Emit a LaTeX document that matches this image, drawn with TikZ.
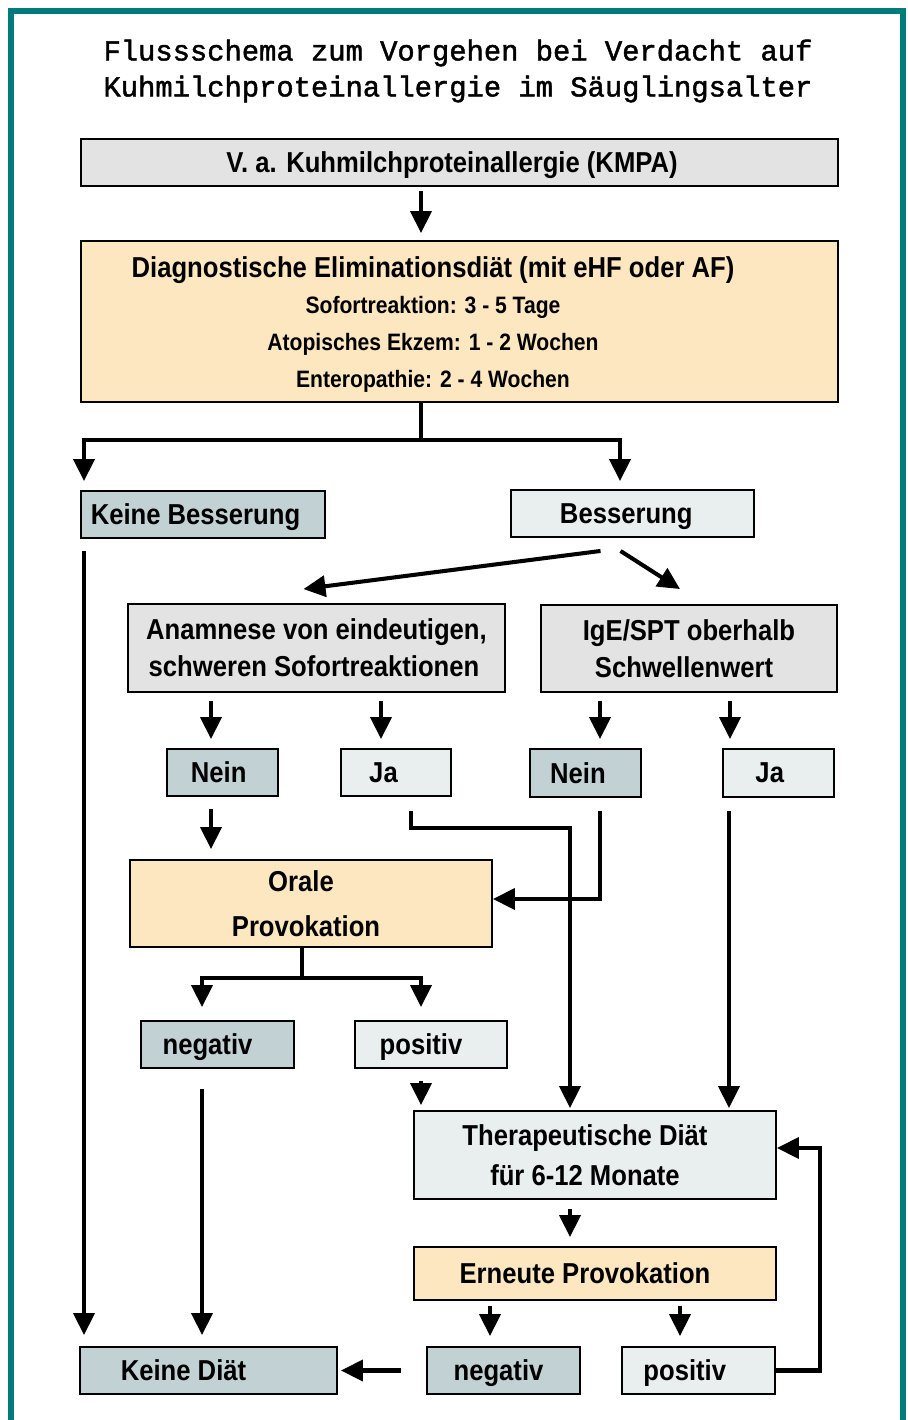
\documentclass[tikz,border=0pt]{standalone}
\usepackage{fontspec}
\setmainfont{Liberation Sans}[BoldFeatures={FakeStretch=0.89}, FakeStretch=0.95]
\newfontfamily\titelfont{Liberation Mono}[FakeBold=1.6]
\usetikzlibrary{arrows.meta,calc}
\definecolor{rahmen}{HTML}{007B7B}
\definecolor{grau}{HTML}{E3E3E3}
\definecolor{gelb}{HTML}{FDE7C0}
\definecolor{blaugrau}{HTML}{C1D1D4}
\definecolor{hell}{HTML}{E9EFEF}
\newcommand{\pxu}{0.02cm}
\tikzset{
  kasten/.style 2 args={draw, line width=1.1pt, inner sep=0pt, text depth=0pt,
    minimum width=#1*\pxu, minimum height=#2*\pxu,
    font=\bfseries\fontsize{16.4}{21}\selectfont, align=center},
  lin/.style={line width=2.3pt},
  arr/.style={lin, -{Triangle[width=0.42cm,length=0.44cm]}},
}

\begin{document}
\begin{tikzpicture}[x=\pxu, y=-\pxu]
    \useasboundingbox (0,0) rectangle (908,1420);
    \draw[rahmen, line width=0.12cm] (11,1420) -- (11,11) -- (903,11) -- (903,1420);
    \node[font=\titelfont\fontsize{16.4}{20}\selectfont] (titel1) at (458,53) {Flussschema zum Vorgehen bei Verdacht auf};
    \node[font=\titelfont\fontsize{16.4}{20}\selectfont] (titel2) at (458,89) {Kuhmilchproteinallergie im Säuglingsalter};
    % Kaesten
    \node[kasten={757}{47}, fill=grau] (kmpa) at (459.5,162.5) {V. a. Kuhmilchproteinallergie (KMPA)\hspace*{0.3cm}};
    \node[kasten={757}{161}, fill=gelb] (elim) at (459.5,321.5) {};
    \node[align=center, text depth=0pt, font=\bfseries\fontsize{13.5}{21}\selectfont] (elimtext) at (433,322)
      {{\fontsize{16.4}{21}\selectfont Diagnostische Eliminationsdiät (mit eHF oder AF)}\\
       Sofortreaktion: 3 - 5 Tage\\ Atopisches Ekzem: 1 - 2 Wochen\\ Enteropathie: 2 - 4 Wochen};
    \node[kasten={244}{47}, fill=blaugrau] (kb) at (203,514.5) {Keine Besserung\hspace*{0.3cm}};
    \node[kasten={243}{47}, fill=hell] (bes) at (632.5,513.5) {Besserung\hspace*{0.25cm}};
    \node[kasten={377}{88}, fill=grau] (anam) at (316.5,648) {Anamnese von eindeutigen,\\schweren Sofortreaktionen\hspace*{0.1cm}};
    \node[kasten={296}{87}, fill=grau] (ige) at (689,648.5) {IgE/SPT oberhalb\\Schwellenwert\hspace*{0.2cm}};
    \node[kasten={111}{47}, fill=blaugrau] (nein1) at (222.5,772.5) {Nein\hspace*{0.15cm}};
    \node[kasten={110}{47}, fill=hell] (ja1) at (396,772.5) {Ja\hspace*{0.5cm}};
    \node[kasten={111}{48}, fill=blaugrau] (nein2) at (585.5,773) {Nein\hspace*{0.3cm}};
    \node[kasten={111}{48}, fill=hell] (ja2) at (778.5,773) {Ja\hspace*{0.35cm}};
    \node[kasten={362}{87}, fill=gelb, font=\bfseries\fontsize{16.4}{25.5}\selectfont] (orale) at (311,903.5) {Orale\hspace*{0.4cm}\\Provokation\hspace*{0.2cm}};
    \node[kasten={153}{47}, fill=blaugrau] (neg1) at (217.5,1044.5) {negativ\hspace*{0.4cm}};
    \node[kasten={152}{47}, fill=hell] (pos1) at (431,1044.5) {positiv\hspace*{0.4cm}};
    \node[kasten={362}{88}, fill=hell, font=\bfseries\fontsize{16.4}{22.7}\selectfont] (ther) at (595,1155) {Therapeutische Diät\hspace*{0.4cm}\\für 6-12 Monate\hspace*{0.4cm}};
    \node[kasten={362}{53}, fill=gelb] (ern) at (595,1273.5) {Erneute Provokation\hspace*{0.4cm}};
    \node[kasten={257}{47}, fill=blaugrau] (kd) at (208.5,1370.5) {Keine Diät\hspace*{1cm}};
    \node[kasten={153}{47}, fill=blaugrau] (neg2) at (503.5,1370.5) {negativ\hspace*{0.2cm}};
    \node[kasten={153}{47}, fill=hell] (pos2) at (698.5,1370.5) {positiv\hspace*{0.55cm}};
    % Pfeile
    \draw[arr, shorten <=0.08cm, shorten >=0.14cm] (kmpa.south -| 421,0) -- (elim.north -| 421,0);
    \coordinate (teil1) at (421,440);
    \draw[lin] (elim.south -| teil1) -- (teil1);
    \draw[arr, shorten >=0.18cm] (teil1) -| (kb.north -| 84,0);
    \draw[arr, shorten >=0.16cm] (teil1) -| (bes.north -| 620,0);
    \draw[arr] ($(bes.south)+(-32,13)$) -- ($(anam.north)+(-13,-14)$);
    \draw[arr] ($(bes.south)+(-12,13)$) -- ($(ige.north)+(-9,-15)$);
    \draw[arr, shorten <=0.16cm, shorten >=0.18cm] (anam.south -| 211,0) -- (nein1.north -| 211,0);
    \draw[arr, shorten <=0.16cm, shorten >=0.18cm] (anam.south -| 381,0) -- (ja1.north -| 381,0);
    \draw[arr, shorten <=0.16cm, shorten >=0.18cm] (ige.south -| 600,0) -- (nein2.north -| 600,0);
    \draw[arr, shorten <=0.16cm, shorten >=0.18cm] (ige.south -| 730,0) -- (ja2.north -| 730,0);
    \draw[arr, shorten <=0.24cm, shorten >=0.2cm] (nein1.south -| 211,0) -- (orale.north -| 211,0);
    \coordinate (knick1) at (570,828);
    \draw[arr, shorten <=0.28cm, shorten >=0.04cm] (ja1.south -| 411,0) |- (knick1) -- (ther.north -| knick1);
    \coordinate (knick2) at (600,899);
    \draw[arr, shorten <=0.26cm] (nein2.south -| knick2) -- (knick2) -- (orale.east |- knick2);
    \draw[arr, shorten <=0.26cm, shorten >=0.04cm] (ja2.south -| 729,0) -- (ther.north -| 729,0);
    \coordinate (teil2) at (302,978);
    \draw[lin] (orale.south -| teil2) -- (teil2);
    \draw[arr, shorten >=0.26cm] (teil2) -| (neg1.north -| 202,0);
    \draw[arr, shorten >=0.26cm] (teil2) -| (pos1.north -| 421,0);
    \draw[arr, shorten <=0.4cm, shorten >=0.22cm] (neg1.south -| 202,0) -- (kd.north -| 202,0);
    \draw[arr, shorten <=0.24cm, shorten >=0.22cm] (kb.south -| 84,0) -- (kd.north -| 84,0);
    \draw[arr, shorten <=0.24cm, shorten >=0.1cm] (pos1.south -| 421,0) -- (ther.north -| 421,0);
    \draw[arr, shorten <=0.18cm, shorten >=0.18cm] (ther.south -| 570,0) -- (ern.north -| 570,0);
    \draw[arr, shorten <=0.1cm, shorten >=0.2cm] (ern.south -| 490,0) -- (neg2.north -| 490,0);
    \draw[arr, shorten <=0.1cm, shorten >=0.2cm] (ern.south -| 680,0) -- (pos2.north -| 680,0);
    \draw[arr, shorten <=0.5cm, shorten >=0.06cm] (neg2.west) -- (kd.east);
    \coordinate (knick3) at (820,1148);
    \draw[arr] (pos2.east) -| (knick3) -- (ther.east |- knick3);
\end{tikzpicture}
\end{document}
